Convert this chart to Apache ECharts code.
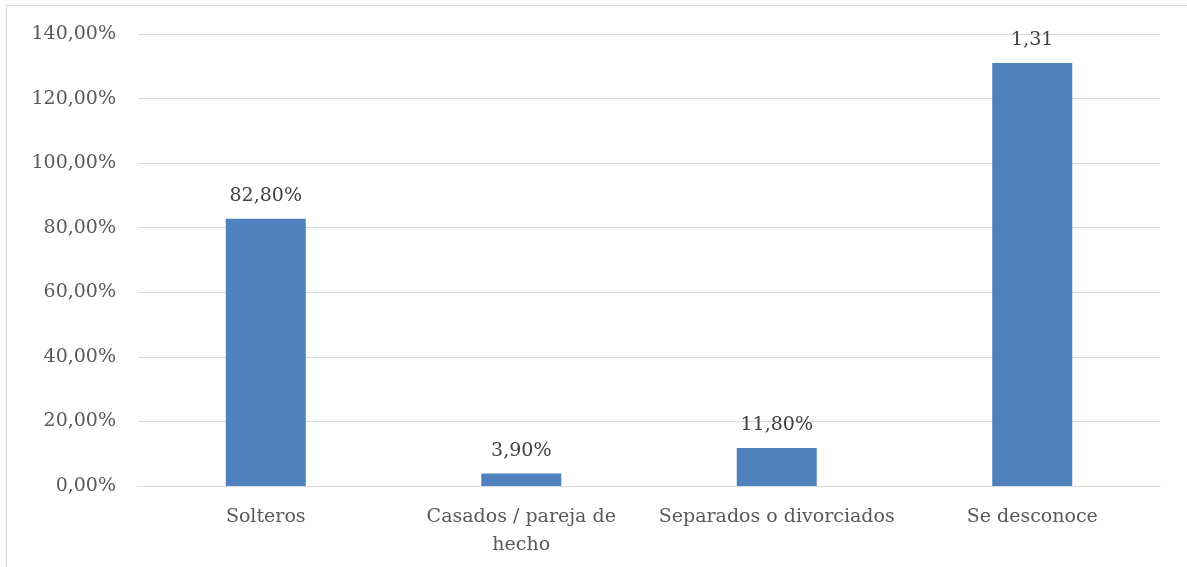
<!DOCTYPE html>
<html>
<head>
<meta charset="utf-8">
<script src="https://cdn.jsdelivr.net/npm/echarts@6/dist/echarts.min.js"></script>
<style>
  html, body { margin: 0; padding: 0; background: #fff; }
  #chart { width: 1187px; height: 567px; }
</style>
</head>
<body>
<div id="chart"></div>
<script>
const categories = ['Solteros', 'Casados / pareja de\nhecho', 'Separados o divorciados', 'Se desconoce'];
const values = [82.8, 3.9, 11.8, 131];
const valueLabels = ['82,80%', '3,90%', '11,80%', '1,31'];
const yTicks = [0, 20, 40, 60, 80, 100, 120, 140];

const font = 'DejaVu Serif';
const textColor = '#595959';

const chart = echarts.init(document.getElementById('chart'));

const option = {
  backgroundColor: '#fff',
  animation: false,
  graphic: [{
    type: 'rect',
    shape: { x: 6.5, y: 5.5, width: 1300, height: 700 },
    style: { fill: 'none', stroke: '#d9d9d9', lineWidth: 1 }
  }],
  grid: { left: 138, right: 27, top: 34, bottom: 81 },
  xAxis: {
    type: 'category',
    data: categories,
    axisTick: { show: false },
    axisLine: { lineStyle: { color: '#d9d9d9', width: 1 } },
    axisLabel: {
      color: textColor, fontFamily: font, fontSize: 19,
      margin: 17, lineHeight: 28, interval: 0
    }
  },
  yAxis: {
    type: 'value',
    min: yTicks[0],
    max: yTicks[yTicks.length - 1],
    interval: 20,
    axisLine: { show: false },
    axisTick: { show: false },
    splitLine: { lineStyle: { color: '#d9d9d9', width: 1 } },
    axisLabel: {
      color: textColor, fontFamily: font, fontSize: 19, margin: 22,
      formatter: v => v.toFixed(2).replace('.', ',') + '%'
    }
  },
  series: [{
    type: 'bar',
    data: values,
    barWidth: 80,
    itemStyle: { color: '#4f81bd' },
    label: {
      show: true,
      position: 'top',
      distance: 13,
      color: '#404040',
      fontFamily: font,
      fontSize: 19,
      formatter: p => valueLabels[p.dataIndex]
    }
  }]
};

chart.setOption(option);
window.addEventListener('resize', () => chart.resize());
</script>
</body>
</html>
